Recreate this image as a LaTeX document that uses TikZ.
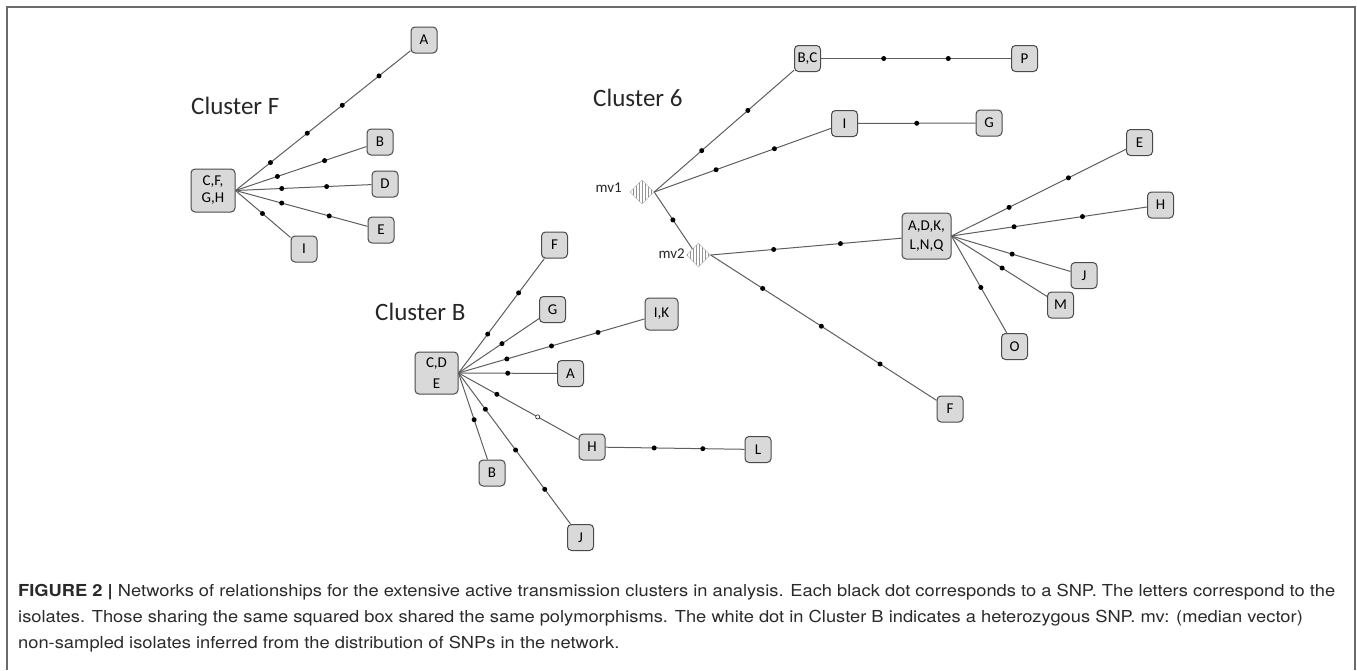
\documentclass[tikz,border=0pt]{standalone}
\usepackage{fontspec}
\usepackage{graphicx}
\setmainfont{Carlito}
\newfontfamily\capfont{TeX Gyre Heros}
\usetikzlibrary{shapes.geometric,patterns}
\definecolor{boxfill}{HTML}{D9D9D9}
\definecolor{boxline}{HTML}{4A4A4A}
\definecolor{edgeline}{HTML}{5E5E5E}
\definecolor{framecol}{HTML}{6B6B6B}
\definecolor{captext}{HTML}{2A2A2A}
\newlength\capw
\newcommand\capsize{\fontsize{16.5}{19}\selectfont}
\newcommand\capone{\textbf{FIGURE 2 |} Networks of relationships for the extensive active transmission clusters in analysis. Each black dot corresponds to a SNP. The letters correspond to the}
\begin{document}
\settowidth{\capw}{\capfont\capsize\capone}%
\pgfmathsetmacro\capsx{1317/\capw}%
\begin{tikzpicture}[x=1pt,y=-1pt,
  iso/.style={draw=boxline, fill=boxfill, rounded corners=4pt, line width=1pt,
    minimum width=26pt, minimum height=26pt, inner sep=1pt,
    font=\fontsize{15}{17}\selectfont},
  mv/.style={diamond, draw=gray!70, pattern=vertical lines, pattern color=gray!85,
    minimum width=24pt, minimum height=24pt, inner sep=0pt},
  link/.style={draw=edgeline, line width=1pt},
  snp/.style={circle, fill=black, inner sep=0pt, minimum size=5pt},
  het/.style={circle, draw=black, fill=white, inner sep=0pt, minimum size=4.2pt, line width=0.5pt},
  clabel/.style={font=\fontsize{25}{30}\selectfont, anchor=base west, inner sep=0pt, text=black!85},
  mvlabel/.style={font=\fontsize{15}{17}\selectfont, inner sep=0pt, anchor=east, text=black!85},
  capline/.style={anchor=base west, inner sep=0pt, text=captext},
]
\useasboundingbox (0,0) rectangle (1357,670);

% outer frame, open at the bottom
\draw[framecol, line width=2pt] (7,670) -- (7,7) -- (1355,7) -- (1355,670);

% ---------------- Cluster F ----------------
\node[clabel] (labF) at (191,114) {Cluster F};
\node[iso, align=center, minimum width=44pt, minimum height=43pt] (F0) at (213,190.5) {C,F,\\G,H};
\node[iso] (FA) at (424,40) {A};
\node[iso] (FB) at (380,142) {B};
\node[iso] (FD) at (385,184) {D};
\node[iso] (FE) at (381,230) {E};
\node[iso] (FI) at (304,249) {I};

\draw[link] (F0.east) -- (FA) node[snp,pos=.2]{} node[snp,pos=.41]{} node[snp,pos=.61]{} node[snp,pos=.82]{};
\draw[link] (F0.east) -- (FB) node[snp,pos=.32]{} node[snp,pos=.68]{};
\draw[link] (F0.east) -- (FD) node[snp,pos=.34]{} node[snp,pos=.67]{};
\draw[link] (F0.east) -- (FE) node[snp,pos=.35]{} node[snp,pos=.71]{};
\draw[link] (F0.east) -- (FI) node[snp,pos=.49]{};

% ---------------- Cluster B ----------------
\node[clabel] (labB) at (375,320) {Cluster B};
\node[iso, align=center, minimum width=43pt, minimum height=42pt,
  font=\fontsize{15}{21}\selectfont] (B0) at (436.5,373) {C,D\\E};
\node[iso] (BF) at (554.5,245) {F};
\node[iso] (BG) at (552.5,309.5) {G};
\node[iso, minimum width=33pt, minimum height=32pt] (BIK) at (661.5,314) {I,K};
\node[iso] (BA) at (570.5,373.5) {A};
\node[iso] (BH) at (592,447) {H};
\node[iso] (BL) at (758,449.5) {L};
\node[iso] (BB) at (492,473) {B};
\node[iso] (BJ) at (580.5,537.5) {J};

\draw[link] (B0.east) -- (BF) node[snp,pos=.34]{} node[snp,pos=.70]{};
\draw[link] (B0.east) -- (BG) node[snp,pos=.54]{};
\draw[link] (B0.east) -- (BIK) node[snp,pos=.26]{} node[snp,pos=.50]{} node[snp,pos=.75]{};
\draw[link] (B0.east) -- (BA) node[snp,pos=.50]{};
\draw[link] (B0.east) -- (BH) node[snp,pos=.32]{} node[het,pos=.66]{};
\draw[link] (BH) -- (BL) node[snp,pos=.35]{} node[snp,pos=.70]{};
\draw[link] (B0.east) -- (BB) node[snp,pos=.54]{};
\draw[link] (B0.east) -- (BJ) node[snp,pos=.24]{} node[snp,pos=.51]{} node[snp,pos=.77]{};

% ---------------- Cluster 6 ----------------
\node[clabel] (lab6) at (593,106) {Cluster 6};
\node[mv] (mv1) at (642,192) {};
\node[mvlabel] (mv1lab) at (622,188) {mv1};
\node[mv] (mv2) at (698.5,255) {};
\node[mvlabel] (mv2lab) at (685,254) {mv2};

\node[iso] (SBC) at (807.5,58.5) {B,C};
\node[iso] (SP) at (1024.5,58.5) {P};
\node[iso] (SI) at (844.5,123.5) {I};
\node[iso] (SG) at (989,123) {G};
\node[iso, align=center, minimum width=49pt, minimum height=46pt,
  font=\fontsize{15}{19}\selectfont] (S0) at (926.5,236) {A,D,K,\\L,N,Q};
\node[iso] (SE) at (1139.5,142.5) {E};
\node[iso] (SH) at (1160.5,205) {H};
\node[iso] (SJ) at (1084,275.5) {J};
\node[iso] (SM) at (1060.5,305) {M};
\node[iso] (SO) at (1014.5,346.5) {O};
\node[iso] (SF) at (950,409) {F};

\draw[link] (mv1.east) -- (SBC) node[snp,pos=.34]{} node[snp,pos=.67]{};
\draw[link] (mv1.east) -- (SI) node[snp,pos=.35]{} node[snp,pos=.68]{};
\draw[link] (mv1.east) -- (mv2.north west) node[snp,pos=.49]{};
\draw[link] (mv2.east) -- (S0) node[snp,pos=.33]{} node[snp,pos=.68]{};
\draw[link] (mv2.east) -- (SF) node[snp,pos=.23]{} node[snp,pos=.49]{} node[snp,pos=.75]{};
\draw[link] (SBC) -- (SP) node[snp,pos=.33]{} node[snp,pos=.67]{};
\draw[link] (SI) -- (SG) node[snp,pos=.5]{};
\draw[link] (S0.east) -- (SE) node[snp,pos=.33]{} node[snp,pos=.67]{};
\draw[link] (S0.east) -- (SH) node[snp,pos=.32]{} node[snp,pos=.67]{};
\draw[link] (S0.east) -- (SJ) node[snp,pos=.51]{};
\draw[link] (S0.east) -- (SM) node[snp,pos=.53]{};
\draw[link] (S0.east) -- (SO) node[snp,pos=.53]{};

% ---------------- caption ----------------
\node[capline] (cap1) at (18,596) {\scalebox{\capsx}[1]{\capfont\capsize\capone}};
\node[capline] (cap2) at (18,622) {\scalebox{\capsx}[1]{\capfont\capsize isolates. Those sharing the same squared box shared the same polymorphisms. The white dot in Cluster B indicates a heterozygous SNP. mv: (median vector)}};
\node[capline] (cap3) at (18,648) {\scalebox{\capsx}[1]{\capfont\capsize non-sampled isolates inferred from the distribution of SNPs in the network.}};
\end{tikzpicture}
\end{document}
